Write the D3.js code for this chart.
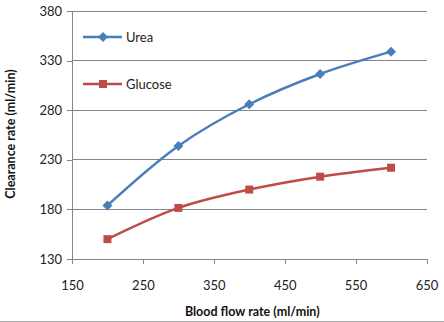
<!DOCTYPE html>
<html><head><meta charset="utf-8">
<script src="https://cdn.jsdelivr.net/npm/d3@7"></script>
<style>body{margin:0;background:#fff}svg{display:block}text{font-family:Lato,"Open Sans",sans-serif}</style>
</head><body><svg id="c" width="444" height="322"></svg>
<script>
const flowRates = [200, 300, 400, 500, 600];
const urea = [184, 244, 286, 316.5, 339];
const glucose = [150, 181.5, 200, 213, 222];
const xTicks = [150, 250, 350, 450, 550, 650];
const yTicks = [130, 180, 230, 280, 330, 380];
const seriesNames = ["Urea", "Glucose"];
const colors = ["#4A7EBB", "#BE4B48"];

const svg = d3.select("#c");
const x = d3.scaleLinear().domain([150, 650]).range([72, 426.5]);
const y = d3.scaleLinear().domain([130, 380]).range([259, 11]);

// gridlines
svg.append("g").selectAll("line").data(yTicks.slice(1)).join("line")
  .attr("x1", x(150)).attr("x2", x(650)).attr("y1", d => y(d)).attr("y2", d => y(d))
  .attr("stroke", "#868686").attr("stroke-width", 1).attr("shape-rendering", "crispEdges");

// axes
const yAxis = svg.append("g").attr("transform", `translate(${x(150)},0)`)
  .call(d3.axisLeft(y).tickValues(yTicks).tickSize(5).tickPadding(5));
const xAxis = svg.append("g").attr("transform", `translate(0,${y(130)})`)
  .call(d3.axisBottom(x).tickValues(xTicks).tickSize(5).tickPadding(17));
[xAxis, yAxis].forEach(a => {
  a.selectAll("path,line").attr("stroke", "#868686").attr("shape-rendering", "crispEdges");
  a.selectAll("text").attr("fill", "#222").attr("font-size", "13px");
});
xAxis.select(".domain").attr("d", `M${x(150)},0H${x(650)}`);
yAxis.select(".domain").attr("d", `M0,${y(130)}V${y(380)}`);

// titles
svg.append("text").attr("x", x(400) + 3).attr("y", 315.5).attr("text-anchor", "middle")
  .attr("font-size", "12.5px").attr("font-weight", "bold").attr("fill", "#111")
  .text("Blood flow rate (ml/min)");
svg.append("text").attr("transform", `translate(14.5,${y(256)}) rotate(-90)`).attr("text-anchor", "middle")
  .attr("font-size", "12.5px").attr("font-weight", "bold").attr("fill", "#111")
  .text("Clearance rate (ml/min)");

// custom square-like diamond
const diamond = { draw(ctx, size) { const r = Math.sqrt(size / 2); ctx.moveTo(0, -r); ctx.lineTo(r, 0); ctx.lineTo(0, r); ctx.lineTo(-r, 0); ctx.closePath(); } };
const syms = [diamond, d3.symbolSquare];
const sizes = [50, 64];

// series
const data = [urea, glucose];
const line = d3.line().x((d, i) => x(flowRates[i])).y(d => y(d)).curve(d3.curveCatmullRom.alpha(0.5));
data.forEach((s, k) => {
  svg.append("path").datum(s).attr("d", line).attr("fill", "none")
    .attr("stroke", colors[k]).attr("stroke-width", 2.5);
  svg.append("g").selectAll("path").data(s).join("path")
    .attr("transform", (d, i) => `translate(${x(flowRates[i])},${y(d)})`)
    .attr("d", d3.symbol().type(syms[k]).size(sizes[k]))
    .attr("fill", colors[k]);
});

// legend
const ly = [37, 84];
seriesNames.forEach((n, k) => {
  const g = svg.append("g").attr("transform", `translate(0,${ly[k]})`);
  g.append("line").attr("x1", 83).attr("x2", 122).attr("y1", 0).attr("y2", 0)
    .attr("stroke", colors[k]).attr("stroke-width", 2.5);
  g.append("path").attr("transform", "translate(103,0)")
    .attr("d", d3.symbol().type(syms[k]).size(sizes[k]))
    .attr("fill", colors[k]);
  g.append("text").attr("x", 126).attr("y", 0).attr("dy", "0.36em")
    .attr("font-size", "13px").attr("fill", "#222").text(n);
});

// bottom border
svg.append("line").attr("x1", 0).attr("x2", 444).attr("y1", 321.5).attr("y2", 321.5)
  .attr("stroke", "#aaa");
</script></body></html>
